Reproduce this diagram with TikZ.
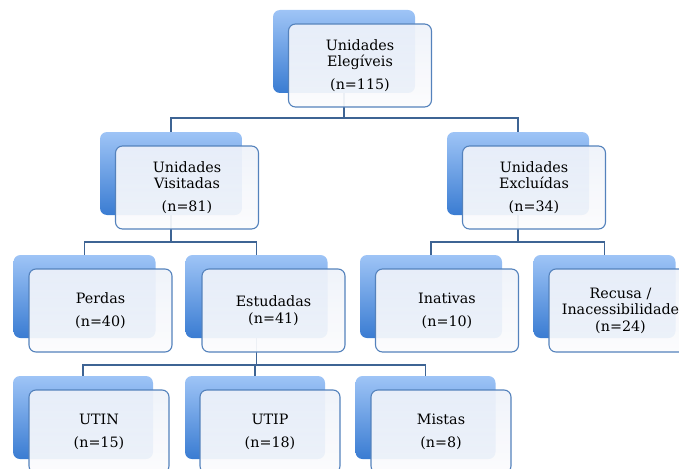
\documentclass[tikz,border=0pt]{standalone}
\usepackage{fontspec}
\setmainfont{DejaVu Serif}
\definecolor{backtop}{RGB}{158,196,246}
\definecolor{backbot}{RGB}{58,124,210}
\definecolor{frontline}{RGB}{84,130,188}
\definecolor{connline}{RGB}{62,100,148}
\definecolor{fronttop}{RGB}{238,242,250}
\definecolor{frontbot}{RGB}{252,252,253}
\begin{document}
\begin{tikzpicture}[x=1pt,y=-1pt,
  backbox/.style={rounded corners=7pt, minimum width=142pt, minimum height=83pt, inner sep=0pt,
    top color=backtop, bottom color=backbot, draw=none},
  frontbox/.style={rounded corners=7pt, minimum width=143pt, minimum height=83pt, inner sep=0pt,
    draw=frontline, line width=1.1pt, top color=fronttop, bottom color=frontbot,
    fill opacity=0.93, text opacity=1, align=center, font=\fontsize{14.3}{16}\selectfont},
  conn/.style={draw=connline, line width=1.4pt}]
\useasboundingbox (0,0) rectangle (679,468);
\clip (0,0) rectangle (679,468);
% back boxes
\node[backbox] (b1)  at (344,51.5) {};
\node[backbox] (b2a) at (171,173.5) {};
\node[backbox] (b2b) at (518,173.5) {};
\node[backbox] (b3a) at (84.5,296.5) {};
\node[backbox] (b3b) at (256.5,296.5) {};
\node[backbox] (b3c) at (431,296.5) {};
\node[backbox] (b3d) at (604.5,296.5) {};
\node[backbox, minimum width=140pt] (b4a) at (83,417.5) {};
\node[backbox, minimum width=140pt] (b4b) at (255,417.5) {};
\node[backbox, minimum width=140pt] (b4c) at (425.5,417.5) {};
% bus coordinates
\coordinate (bus1) at (0,118);
\coordinate (bus2) at (0,242);
\coordinate (bus3) at (0,365);
% connectors
\draw[conn] (b1.south) -- (b1.south |- bus1);
\draw[conn] (b2a.north) |- (b2b.north |- bus1) -- (b2b.north);
\draw[conn] (b2a.south) -- (b2a.south |- bus2);
\draw[conn] (b3a.north) |- (b3b.north |- bus2) -- (b3b.north);
\draw[conn] (b2b.south) -- (b2b.south |- bus2);
\draw[conn] (b3c.north) |- (b3d.north |- bus2) -- (b3d.north);
\draw[conn] (b3b.south) -- (b3b.south |- bus3);
\draw[conn] (b4a.north) |- (b4c.north |- bus3) -- (b4c.north);
\draw[conn] (b4b.north) -- (b4b.north |- bus3);
% front boxes
\node[frontbox] (f1)  at (360,65.5) {Unidades\\Elegíveis\\[7pt](n=115)};
\node[frontbox] (f2a) at (187,187.5) {Unidades\\Visitadas\\[7pt](n=81)};
\node[frontbox] (f2b) at (534,187.5) {Unidades\\Excluídas\\[7pt](n=34)};
\node[frontbox] (f3a) at (100.5,310.5) {Perdas\\[7pt](n=40)};
\node[frontbox] (f3b) at (273.5,310.5) {Estudadas\\[1pt](n=41)};
\node[frontbox] (f3c) at (447,310.5) {Inativas\\[7pt](n=10)};
\node[frontbox] (f3d) at (620.5,310.5) {Recusa /\\Inacessibilidade\\[1pt](n=24)};
\node[frontbox, minimum width=140pt] (f4a) at (99,431.5) {UTIN\\[7pt](n=15)};
\node[frontbox, minimum width=140pt] (f4b) at (270,431.5) {UTIP\\[7pt](n=18)};
\node[frontbox, minimum width=140pt] (f4c) at (441,431.5) {Mistas\\[7pt](n=8)};
\end{tikzpicture}
\end{document}
